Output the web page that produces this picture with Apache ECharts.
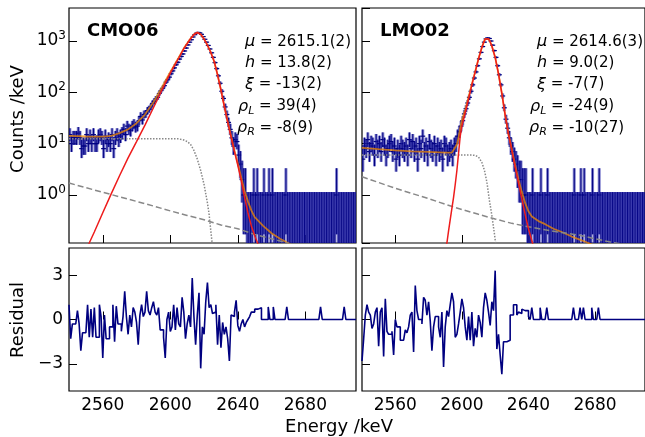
<!DOCTYPE html>
<html><head><meta charset="utf-8">
<script src="https://cdn.jsdelivr.net/npm/echarts@6.0.0/dist/echarts.min.js"></script>
<style>html,body{margin:0;padding:0;background:#fff}#c{width:645px;height:437px}</style>
</head><body><div id="c"></div>
<script>
// ---- data (1 keV bins, first bin low edge = 2540) ----
const binStart = 2540;
const xTicks = [2560, 2600, 2640, 2680];
const residTicks = [-3, 0, 3];

const cmoCounts = [15,10,13,13,13,16,13,8,9,9,15,10,14,10,15,10,10,14,15,13,8,14,10,12,10,15,8,13,15,12,
 14,16,19,15,22,19,18,22,24,21, 22,28,34,29,37,38,44,47,52,61,
 66,75,80,95,108,120,135,158,176,198, 230,262,300,345,385,445,500,560,640,730,
 840,950,1060,1200,1330,1420,1470,1440,1350,1220, 1080,950,820,700,590,480,380,290,210,150,
 105,76,52,37,26,19,13,9,12,11, 6,4,2,1,1,0,0,0,0,1,
 0,1,0,0,0,1,0,0,1,0, 1,0,0,0,0,0,0,0,1,0, 0,0,0,0,0,0,0,0,0,0,
 0,0,0,0,0,0,0,0,0,0, 0,0,0,0,0,0,0,0,1,0, 0,0,0,0,0,0,0,0,0,0, 0,0,1,0,0,0,0,0,0,0];
const lmoCounts = [5,9,8,12,7,10,9,6,11,8,10,7,12,9,6,8,10,11,7,9,5,8,6,10,8,7,9,6,12,8,
 11,7,9,5,10,8,14,7,9,6,11,8,7,10,6,9,7,8,5,10,9,6,7,8,6,
 9,10,14,17,22, 28,38,48,62,80,105,140,190,250,330,
 450,600,780,950,1100,1150,1120,1000,830,650, 480,330,220,140,85,50,30,20,13,9,
 7,5,4,3,2,2,1,1,1,0, 0,0,1,0,0,0,0,1,0,0, 0,1,0,0,0,0,0,0,0,0,
 0,0,0,0,0,0,0,1,0,0, 0,1,0,1,0,0,0,0,1,0, 0,0,1,0,0,0,0,0,0,0,
 0,0,0,0,0,0,0,0,0,0, 0,0,0,0,0,0,0,0,0,0];

const cmoResid = [1.0,-1.3,-0.3,-0.3,-0.3,0.6,-0.3,-2.1,-0.9,-0.9,
 -0.9,1.0,-1.2,0.7,-1.2,0.8,-1.2,-1.2,1.0,0.2, -2.6,0.3,-1.3,-1.3,-0.5,-0.5,1.0,-1.5,0.9,-0.3,
 -0.3,-0.8,0.2,1.9,0.2,-1.0,0.3,-0.5,0.8,0.5, -0.2,-1.7,0.3,1.0,0.2,0.5,1.9,0.6,0.3,0.8,
 1.2,0.5,0.3,0.8,-0.7,-0.7,-1.2,-2.6,0.0,0.5, -0.8,-0.5,1.0,-0.7,0.8,-0.3,-0.5,1.5,0.5,-1.3,
 -0.3,0.3,-0.5,2.8,0.2,-1.7,0.3,1.8,-3.3,-0.5, -1.0,1.2,2.5,0.8,1.0,0.4,0.5,1.0,-1.7,0.3,
 -1.9,-0.2,-1.0,-0.5,-1.3,-2.8,0.3,0.2,0.5,1.3, -0.4,-0.8,-0.3,0.0,-0.5,-0.2,0.0,0.2,0.5,0.5,
 0.7,0.7,0.8,0.8,0,0,0,0,0.85,0, 0,0.85,0,0,0,0,0,0,0,0.85, 0,0,0,0,0,0,0,0,0,0,
 0,0,0,0,0,0,0,0,0,0.85, 0,0,0,0,0,0,0,0,0,0, 0,0,0,0.85,0,0,0,0,0,0];
const lmoResid = [-2.8,-1.3,0.3,1.0,0.5,0.3,-0.6,-0.3,0.5,0.8, -1.8,0.5,0.8,-2.5,1.4,-0.8,-1.0,-1.0,-0.8,-2.4,
 0.0,-0.5,-0.5,-1.4,-1.4,-1.4,-0.7,-0.9,-0.5,0.3, 0.5,-2.2,2.3,0.6,0.0,0.0,-0.3,1.5,1.3,0.3,
 1.2,-0.1,-2.1,-0.5,0.2,0.2,-0.5,-1.2,0.5,-3.2, -0.5,0.6,0.2,1.0,1.8,1.2,-1.2,-1.0,-0.3,0.5,
 1.4,0.8,-0.5,-1.4,0.2,-1.4,0.5,-1.8,-0.6,-1.2, 0.3,-0.2,-1.2,0.8,1.8,1.3,0.5,-0.4,1.2,0.6,
 3.3,-2.0,-1.0,-2.4,-3.7,-1.5,-1.5,-1.4,-1.4,0.3, 0.3,1.0,1.0,0.3,0.5,0.4,0.7,0.6,0.5,0.6,
 0.2,0.0,0.8,0.0,0,0,0,0.8,0,0, 0,0.8,0,0,0,0,0,0,0,0, 0,0,0,0,0,0,0,0.8,0,0,
 0,0.8,0,0.8,0,0,0,0,0.8,0, 0,0,0.8,0,0,0,0,0,0,0, 0,0,0,0,0,0,0,0,0,0, 0,0,0,0,0,0,0,0,0,0];

// fit curves: [energy, counts/keV]
const cmoFit = [[2540,14.2],[2545,14.0],[2550,13.8],[2555,13.7],[2560,13.7],[2565,14.2],[2570,16],[2575,19],[2580,25],[2585,37],[2590,64],[2595,125],[2598,190],[2600,250],[2603,370],[2605,480],[2608,720],[2610,900],[2612,1120],[2614,1350],[2615,1440],[2616,1470],[2617,1440],[2618,1350],[2619,1220],[2620,1090],[2622,830],[2624,600],[2626,400],[2628,220],[2630,112],[2632,54],[2634,27],[2636,14],[2638,7.4],[2640,4.1],[2642,2.2],[2644,1.2],[2646,0.75],[2648,0.5],[2650,0.37],[2655,0.25],[2660,0.18],[2665,0.14],[2670,0.115],[2675,0.09]];
const cmoPeak = [[2551,0.1],[2552,0.116],[2555,0.19],[2560,0.45],[2565,1.05],[2570,2.4],[2575,5.3],[2580,11],[2585,23],[2590,50],[2595,110],[2598,175],[2600,237],[2603,357],[2605,467],[2608,708],[2610,889],[2612,1110],[2614,1340],[2615,1430],[2616,1465],[2617,1435],[2618,1347],[2619,1218],[2620,1088],[2622,829],[2624,599],[2626,399],[2628,219],[2630,111],[2632,53],[2634,26],[2636,13.5],[2638,7.0],[2640,3.8],[2642,1.9],[2644,0.9],[2646,0.45],[2648,0.25],[2650,0.16],[2652,0.11],[2654,0.08]];
const cmoStep = [[2540,12.5],[2600,12.5],[2605,12.4],[2608,11.8],[2610,11],[2612,9.7],[2614,7.4],[2616,5],[2618,3],[2620,1.6],[2622,0.7],[2623,0.42],[2624,0.2],[2625,0.1]];
const cmoBkg = [[2540,1.71],[2550,1.39],[2560,1.13],[2570,0.92],[2580,0.75],[2590,0.61],[2600,0.49],[2610,0.40],[2620,0.33],[2630,0.26],[2640,0.22],[2650,0.17],[2660,0.14],[2670,0.114],[2680,0.093]];

const lmoFit = [[2540,8.3],[2550,7.8],[2560,7.4],[2570,7.1],[2580,6.9],[2590,6.7],[2594,6.7],[2595,7.5],[2596,8.2],[2597,9.6],[2598,13],[2599,20],[2600,28.5],[2602,46],[2604,81],[2606,146],[2608,256],[2610,456],[2612,754],[2613,923],[2614,1102],[2614.6,1171],[2615,1161],[2616,1100],[2617,960],[2618,800],[2620,480],[2622,230],[2624,95],[2626,36],[2628,15.3],[2630,7.8],[2632,3.8],[2634,2.0],[2636,1.15],[2638,0.7],[2640,0.48],[2642,0.38],[2646,0.31],[2650,0.27],[2655,0.22],[2660,0.19],[2666,0.155],[2672,0.13],[2676,0.116],[2680,0.1]];
const lmoPeak = [[2590.5,0.1],[2591,0.116],[2592,0.2],[2593,0.33],[2594,0.55],[2595,0.9],[2596,1.6],[2597,3],[2598,6.5],[2599,14],[2600,22],[2602,40],[2604,75],[2606,140],[2608,250],[2610,450],[2612,750],[2613,920],[2614,1100],[2614.6,1170],[2615,1160],[2616,1100],[2617,960],[2618,800],[2620,480],[2622,230],[2624,95],[2626,36],[2628,15],[2630,7.5],[2632,3.5],[2634,1.7],[2636,0.85],[2638,0.42],[2640,0.22],[2642,0.13],[2643,0.1]];
const lmoStep = [[2540,6.0],[2606,6.0],[2608,5.9],[2610,5.5],[2612,4.3],[2613.5,3.07],[2615,1.8],[2616.5,0.8],[2618,0.4],[2619.5,0.18],[2620.5,0.1]];
const lmoBkg = [[2540,2.27],[2550,1.75],[2560,1.35],[2570,1.07],[2580,0.85],[2590,0.66],[2600,0.52],[2610,0.42],[2620,0.34],[2630,0.28],[2640,0.24],[2650,0.21],[2660,0.185],[2670,0.166],[2680,0.14],[2690,0.12],[2700,0.105]];

const cmoParams = [['μ','','2615.1(2)'],['h','','13.8(2)'],['ξ','','-13(2)'],['ρ','L','39(4)'],['ρ','R','-8(9)']];
const lmoParams = [['μ','','2614.6(3)'],['h','','9.0(2)'],['ξ','','-7(7)'],['ρ','L','-24(9)'],['ρ','R','-10(27)']];

// ---- helpers ----
const FONT = 'DejaVu Sans';
const zeroTop = 1.14, below = 0.01;
function pLow(n){ return n*Math.pow(1-1/(9*n)-1/(3*Math.sqrt(n)),3); }
function pHigh(n){ return n+Math.sqrt(n+0.75)+1; }

function errorSeries(counts, gi){
  const data = counts.map((n,i)=>[binStart+0.5+i, n>0?n:below, n>0?pLow(n):below, n>0?pHigh(n):zeroTop, n]);
  return {type:'custom', xAxisIndex:gi, yAxisIndex:gi, clip:true, z:3, data,
    encode:{x:0, y:[1,2,3]},
    renderItem:(params, api)=>{
      const x = api.value(0), n = api.value(4);
      const a = api.coord([x, api.value(2)]), b = api.coord([x, api.value(3)]);
      const ch = [
        {type:'line', shape:{x1:a[0],y1:a[1],x2:b[0],y2:b[1]}, style:{stroke:'rgba(40,40,170,0.6)', lineWidth:3}},
        {type:'line', shape:{x1:a[0],y1:a[1],x2:b[0],y2:b[1]}, style:{stroke:'#000080', lineWidth:1}}
      ];
      if(n>0){ const m = api.coord([x, n]);
        ch.push({type:'line', shape:{x1:m[0]-2.5,y1:m[1],x2:m[0]+2.5,y2:m[1]}, style:{stroke:'#000080', lineWidth:1.2}}); }
      return {type:'group', children:ch};
    }};
}
function curve(d, gi, color, type, w, z, op){
  return {type:'line', xAxisIndex:gi, yAxisIndex:gi, data:d, showSymbol:false, symbol:'none', z:z, clip:true,
    lineStyle:{color:color, width:w, type:type, opacity:op==null?1:op}, silent:true, animation:false};
}
function resid(r, gi){
  const d = r.map((v,i)=>[binStart+i, v]); d.push([binStart+r.length, r[r.length-1]]);
  return {type:'line', step:'end', xAxisIndex:gi, yAxisIndex:gi, data:d, showSymbol:false, symbol:'none',
    lineStyle:{color:'#000080', width:1.6}, z:3};
}

const grids = [
  {left:69, top:8, width:287, height:235},
  {left:362, top:8, width:287, height:235},
  {left:69, top:248, width:287, height:143},
  {left:362, top:248, width:287, height:143}
].map(g=>Object.assign(g,{show:true, borderColor:'#000', borderWidth:1.2, backgroundColor:'transparent'}));

const xAxes = [0,1,2,3].map(i=>({gridIndex:i, type:'value', min:2540, max:2710,
  axisLine:{show:false}, splitLine:{show:false},
  axisTick:{show:true, inside:true, length:8, customValues:xTicks, lineStyle:{color:'#000', width:1}},
  axisLabel:{show:i>=2, customValues:xTicks, margin:6, fontSize:17, color:'#000', fontFamily:FONT, formatter:v=>String(v)}}));

const logLabel = {show:true, showMinLabel:false, showMaxLabel:false, margin:3, color:'#000', fontFamily:FONT,
  formatter:v=>'{b|10}{s|'+Math.round(Math.log10(v))+'}',
  rich:{b:{fontSize:17, fontFamily:FONT, color:'#000'}, s:{fontSize:12, fontFamily:FONT, color:'#000', padding:[0,0,10,0]}}};
const yAxes = [0,1].map(i=>({gridIndex:i, type:'log', logBase:10, min:0.116, max:4400,
  axisLine:{show:false}, splitLine:{show:false}, minorTick:{show:false},
  axisTick:{show:true, inside:true, length:8, lineStyle:{color:'#000'}},
  axisLabel: i===0 ? logLabel : {show:false}})).concat([2,3].map(i=>({gridIndex:i, type:'value', min:-4.83, max:4.83,
  axisLine:{show:false}, splitLine:{show:false},
  axisTick:{show:true, inside:true, length:8, customValues:residTicks, lineStyle:{color:'#000'}},
  axisLabel:{show:i===2, customValues:residTicks, margin:6, fontSize:17, color:'#000', fontFamily:FONT,
    formatter:v=> v<0 ? '\u2212'+(-v) : String(v)}})));

function paramTexts(params, x0){
  const xs=[245,245,245,238,237], ys=[41.7,63.3,84.5,106.5,128];
  return params.map((p,k)=>({type:'text', x:x0+xs[k], y:ys[k], silent:true,
    style:{text:'{i|'+p[0]+'}'+(p[1]?'{u|'+p[1]+'}':'')+'{n| = '+p[2]+'}', verticalAlign:'middle', align:'left',
      rich:{i:{fontFamily:FONT, fontStyle:'italic', fontSize:16, fill:'#000'},
            u:{fontFamily:FONT, fontStyle:'italic', fontSize:11, fill:'#000', padding:[9,0,0,0]},
            n:{fontFamily:FONT, fontSize:15, fill:'#000'}}}}));
}

const graphic = [
  {type:'text', x:87, y:31.7, silent:true, style:{text:'CMO06', font:'bold 18px "DejaVu Sans"', fill:'#000', verticalAlign:'middle'}},
  {type:'text', x:380, y:31.7, silent:true, style:{text:'LMO02', font:'bold 18px "DejaVu Sans"', fill:'#000', verticalAlign:'middle'}},
  {type:'text', x:339, y:427, silent:true, style:{text:'Energy /keV', font:'18px "DejaVu Sans"', fill:'#000', align:'center', verticalAlign:'middle'}},
  {type:'text', x:18, y:119, rotation:Math.PI/2, silent:true, style:{text:'Counts /keV', font:'18px "DejaVu Sans"', fill:'#000', align:'center', verticalAlign:'middle'}},
  {type:'text', x:18, y:320, rotation:Math.PI/2, silent:true, style:{text:'Residual', font:'18px "DejaVu Sans"', fill:'#000', align:'center', verticalAlign:'middle'}}
].concat(paramTexts(cmoParams,0), paramTexts(lmoParams,292));

const series = [
  errorSeries(cmoCounts,0), errorSeries(lmoCounts,1),
  curve(cmoFit,0,'#f08a00','solid',1.8,4,0.75), curve(lmoFit,1,'#f08a00','solid',1.8,4,0.75),
  curve(cmoStep,0,'#888','dotted',1.5,4), curve(cmoBkg,0,'#888',[6,3],1.5,4),
  curve(cmoPeak,0,'#ee1c1c','solid',1.5,6),
  curve(lmoStep,1,'#888','dotted',1.5,4), curve(lmoBkg,1,'#888',[6,3],1.5,4),
  curve(lmoPeak,1,'#ee1c1c','solid',1.5,6),
  resid(cmoResid,2), resid(lmoResid,3)
];

const chart = echarts.init(document.getElementById('c'));
chart.setOption({animation:false, grid:grids, xAxis:xAxes, yAxis:yAxes, series, graphic});
</script></body></html>
